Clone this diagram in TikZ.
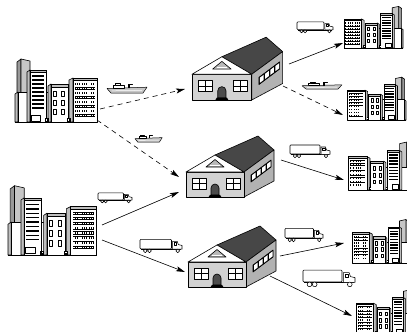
\documentclass[tikz,border=0pt]{standalone}
\usetikzlibrary{arrows.meta}

\tikzset{
  ink/.style={line width=0.6pt, line join=round},
  flow/.style={ink, -{Stealth[length=9pt,width=5pt,inset=2pt]}},
  seaflow/.style={flow, dash pattern=on 5pt off 4pt},
  % cluster of city buildings, origin at bottom-left of the base
  pics/city/.style={code={
    \begin{scope}[ink]
    % tall back tower
    \filldraw[fill=gray!80] (2,-26) -- (2,-60) -- (6,-63) -- (6,-26) -- cycle;
    \filldraw[fill=gray!45] (6,-26) -- (6,-63) -- (15,-61) -- (15,-26) -- cycle;
    % low block
    \filldraw[fill=gray!50] (0,0) -- (0,-28) -- (3,-30) -- (3,0) -- cycle;
    \filldraw[fill=white] (3,0) rectangle (35,-30);
    % striped block
    \filldraw[fill=gray!50] (12,0) -- (12,-50) -- (15,-52) -- (15,0) -- cycle;
    \filldraw[fill=white] (15,0) rectangle (31,-52);
    \filldraw[fill=gray!50] (15,-52) rectangle (31,-50);
    \foreach \y in {-46,-42,...,-14} \draw[line width=1.4pt] (17,\y) -- (29,\y);
    \filldraw[fill=white, line width=0.9pt] (16,-1) rectangle (25,-7);
    % middle block with tall windows
    \filldraw[fill=gray!50] (33,0) -- (33,-36) -- (36,-38) -- (36,0) -- cycle;
    \filldraw[fill=white] (36,0) rectangle (53,-38);
    \filldraw[fill=gray!50] (36,-38) rectangle (53,-35);
    \foreach \x in {38.5,46.5} \foreach \y in {-31,-22,-13}
      \draw[line width=0.9pt] (\x,\y) rectangle ++(2.6,5);
    % right block with rows of windows
    \filldraw[fill=gray!50] (54,0) -- (54,-42) -- (58,-44) -- (58,0) -- cycle;
    \filldraw[fill=white] (58,0) rectangle (82,-44);
    \filldraw[fill=gray!50] (58,-44) rectangle (82,-42);
    \foreach \y in {-38,-33.5,...,-6} {
      \fill[black] (60,\y-1.4) rectangle (80,\y+1.4);
      \draw[white, line width=1.2pt, dash pattern=on 1.5pt off 0.8pt] (60.6,\y) -- (79.6,\y);
    }
    % doors
    \fill[black] (30,0) rectangle (33.5,-4);
    \fill[black] (52,0) rectangle (55.5,-4);
    \fill[white] (31.2,-1.5) rectangle (32.3,-2.8);
    \fill[white] (53.2,-1.5) rectangle (54.3,-2.8);
    \draw[line width=1pt] (0,0) -- (82,0);
    \end{scope}
  }},
  % warehouse, origin at bottom-left of the front wall
  pics/depot/.style={code={
    \begin{scope}[ink]
    % roof
    \filldraw[fill=black!72] (29,-42) -- (72,-61) -- (88,-47) -- (58,-25) -- cycle;
    % side wall
    \filldraw[fill=gray!60] (58,-25) -- (88,-47) -- (88,-16) -- (58,0) -- cycle;
    \filldraw[fill=black] (65,-15) -- (65,-22) -- (85,-37) -- (85,-30) -- cycle;
    \foreach \x/\y in {66/-16.75, 71/-20.5, 76/-24.25, 81/-28}
      \fill[white] (\x,\y) -- ++(0,-5) -- ++(3.6,-2.7) -- ++(0,5) -- cycle;
    % front wall and gable
    \filldraw[fill=gray!35] (0,0) rectangle (58,-25);
    \filldraw[fill=white] (0,-25) -- (29,-42) -- (58,-25) -- cycle;
    \filldraw[fill=gray!55] (20,-30) -- (29,-37.5) -- (38,-30) -- cycle;
    \draw[white, line width=0.7pt] (24,-32) -- (34,-32);
    % windows
    \foreach \x in {6,40} {
      \filldraw[fill=white, line width=0.9pt] (\x,-8) rectangle ++(14,-11);
      \draw[line width=0.9pt] (\x+7,-8) -- ++(0,-11) (\x,-13.5) -- ++(14,0);
    }
    % arched door and steps
    \filldraw[fill=black!70] (25,-2) -- (25,-9) arc[start angle=180,end angle=360,radius=4] -- (33,-2) -- cycle;
    \fill[black] (22.5,0.3) -- (24,-2.2) -- (34,-2.2) -- (35.5,0.3) -- cycle;
    \end{scope}
  }},
  % lorry, origin at bottom-left
  pics/lorry/.style={code={
    \begin{scope}[ink, line width=0.55pt]
    \filldraw[fill=white, rounded corners=0.8pt] (0,-4) rectangle (30,-13);
    \draw (1,-3.6) -- (39,-3.6);
    \filldraw[fill=white] (31,-3.6) -- (31,-11) -- (35.5,-11) -- (36.5,-8) -- (40,-7.2) -- (40,-3.6) -- cycle;
    \draw (32.4,-9.8) rectangle (35,-7.8);
    \filldraw[fill=white] (5,-2) circle (1.8) (9,-2) circle (1.8) (36,-2) circle (1.8);
    \end{scope}
  }},
  % ship, origin at bottom-left of the hull
  pics/ship/.style={code={
    \begin{scope}[ink, line width=0.5pt]
    \filldraw[fill=gray!45] (0,-4.5) -- (40,-5.8) -- (36,0) -- (4,0) -- cycle;
    \draw[white] (5,-2.2) -- (35,-2.6);
    \filldraw[fill=white] (6,-4.7) rectangle (17,-7.5);
    \filldraw[fill=white] (8,-7.5) rectangle (13,-9.5);
    \fill[black] (21,-4.8) rectangle (22.6,-9.2);
    \draw (21,-9.2) -- (25,-9.2) -- (25,-8);
    \end{scope}
  }}
}

\begin{document}
\begin{tikzpicture}[x=1pt,y=-1pt]
\useasboundingbox (0,0) rectangle (407,332);
\fill[white] (0,0) rectangle (407,332);
\clip (0,0) rectangle (407,332);

% source cities
\pic at (15,122) {city};
\pic[xscale=1.08, yscale=1.1] at (8,255) {city};

% warehouses
\pic[scale=1.03] at (192,100) {depot};
\pic at (186,197) {depot};
\pic at (188,287) {depot};

% destination cities
\pic[xscale=-0.72, yscale=0.66] at (403,48) {city};
\pic[xscale=-0.71, yscale=0.68] at (406,120) {city};
\pic[xscale=-0.76, yscale=0.76] at (411,190) {city};
\pic[xscale=-0.70, yscale=0.69] at (410,263) {city};
\pic[xscale=-0.70, yscale=0.70] at (414,334) {city};

% transport symbols
\pic at (107,93) {ship};
\pic[xscale=0.68, yscale=0.75] at (135,142) {ship};
\pic[xscale=1, yscale=0.72] at (302,89) {ship};

\pic[xscale=0.9, yscale=0.85] at (297,33) {lorry};
\pic at (290,158) {lorry};
\pic[xscale=0.85, yscale=0.78] at (98,203) {lorry};
\pic[xscale=1.05, yscale=1.05] at (140,253) {lorry};
\pic[xscale=0.95, yscale=1.05] at (285,242) {lorry};
\pic[xscale=1.3, yscale=1.3] at (303,287) {lorry};

% arrow end points
\coordinate (src1a) at (100,109);
\coordinate (src1b) at (97,120);
\coordinate (src2a) at (102,225);
\coordinate (src2b) at (102,240);
\coordinate (dep1in) at (185,89);
\coordinate (dep2inA) at (179,177);
\coordinate (dep2inB) at (179,192);
\coordinate (dep3in) at (185,272);
\coordinate (dep1outA) at (289,64);
\coordinate (dep1outB) at (283,86);
\coordinate (dep2out) at (281,160);
\coordinate (dep3outA) at (280,256);
\coordinate (dep3outB) at (270,276);
\coordinate (dst1) at (343,43);
\coordinate (dst2) at (343,115);
\coordinate (dst3) at (344,180);
\coordinate (dst4) at (344,243);
\coordinate (dst5) at (352,316);

% flows
\draw[seaflow] (src1a) -- (dep1in);
\draw[seaflow] (src1b) -- (dep2inA);
\draw[flow] (src2a) -- (dep2inB);
\draw[flow] (src2b) -- (dep3in);
\draw[flow] (dep1outA) -- (dst1);
\draw[seaflow] (dep1outB) -- (dst2);
\draw[flow] (dep2out) -- (dst3);
\draw[flow] (dep3outA) -- (dst4);
\draw[flow] (dep3outB) -- (dst5);
\end{tikzpicture}
\end{document}
